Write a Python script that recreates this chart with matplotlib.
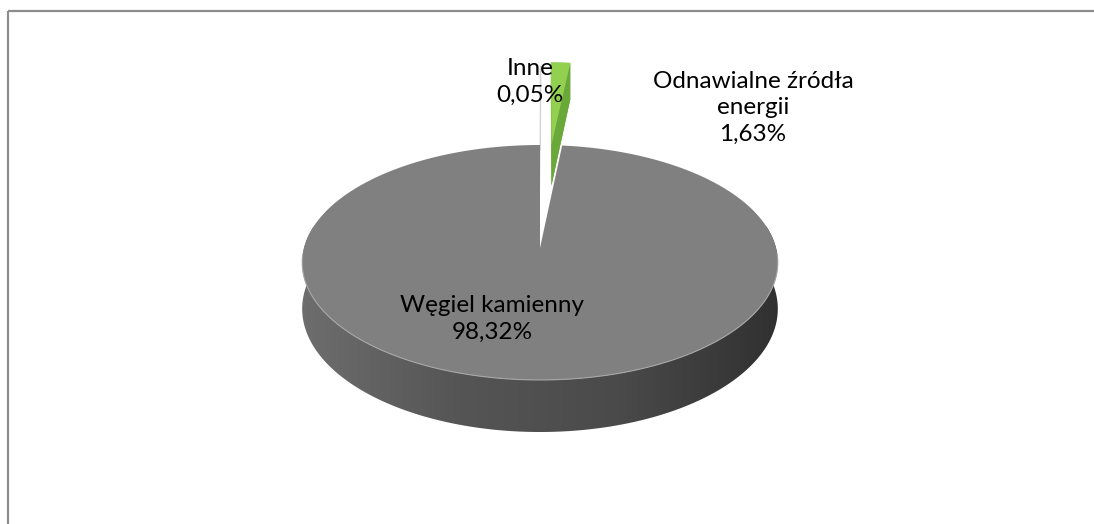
import numpy as np
import matplotlib.pyplot as plt
from matplotlib.patches import Polygon
from matplotlib.colors import LinearSegmentedColormap

# dane
kategorie = ['Inne', 'Odnawialne źródła\nenergii', 'Węgiel kamienny']
udzialy = [0.05, 1.63, 98.32]
procenty = ['0,05%', '1,63%', '98,32%']

kolory_gora = ['#f4f4f4', '#92d050', '#808080']
kolory_bok = ['#d4d4d4', '#6aa83a', '#505050']
wysuniecie = [0.95, 1.0, 0.0]

# geometria "3D" (piksele)
cx, cy = 540, 248
A, B, k = 236, 115.7, 0.1234
D = 45.6


def rzut(u, v, dol=False):
    w = 1 + k * v
    x = cx + A * u / w
    y = cy - B * v / w
    if dol:
        y = y + D / w
    return x, y


fig = plt.figure(figsize=(10.94, 5.24), dpi=100)
ax = fig.add_axes([0, 0, 1, 1])
ax.set_xlim(0, 1094)
ax.set_ylim(524, 0)
ax.axis('off')

granice = np.concatenate([[0], np.cumsum(udzialy)]) / np.sum(udzialy) * 360

# najpierw wysuniete male wycinki (z tylu)
for i in range(len(udzialy)):
    if wysuniecie[i] == 0:
        continue
    t0, t1 = np.radians(granice[i]), np.radians(granice[i + 1])
    tm = (t0 + t1) / 2
    ou, ov = wysuniecie[i] * np.sin(tm), wysuniecie[i] * np.cos(tm)
    t = np.linspace(t0, t1, 20)
    uu = np.concatenate([[ou], ou + np.sin(t)])
    vv = np.concatenate([[ov], ov + np.cos(t)])
    gora = np.column_stack(rzut(uu, vv))
    dol = np.column_stack(rzut(uu, vv, True))
    ax.add_patch(Polygon(dol, closed=True, fc=kolory_bok[i], ec='none'))
    n = len(gora)
    for j in range(n):
        q = [gora[j], gora[(j + 1) % n], dol[(j + 1) % n], dol[j]]
        ax.add_patch(Polygon(q, closed=True, fc=kolory_bok[i], ec='none'))
    ax.add_patch(Polygon(gora, closed=True, fc=kolory_gora[i],
                         ec=kolory_bok[i] if i == 0 else 'none', lw=0.8))

# glowny wycinek
i = 2
t0, t1 = np.radians(granice[i]), np.radians(granice[i + 1])
t = np.linspace(t0, t1, 400)

# bok z gradientem
tb = t[np.cos(t) < 0.2]
xg, yg = rzut(np.sin(tb), np.cos(tb))
xd, yd = rzut(np.sin(tb), np.cos(tb), True)
bok = Polygon(np.column_stack([np.concatenate([xg, xd[::-1]]),
                               np.concatenate([yg, yd[::-1]])]),
              closed=True, fc='none', ec='none')
ax.add_patch(bok)
cm = LinearSegmentedColormap.from_list('bok', ['#6e6e6e', '#555555', '#4a4a4a', '#303030'])
grad = np.linspace(0, 1, 256).reshape(1, -1)
im = ax.imshow(grad, cmap=cm, aspect='auto', interpolation='bilinear',
               extent=[cx - A * 1.02, cx + A * 1.02, cy + 200, cy - 50], zorder=1)
im.set_clip_path(bok)
ax.set_xlim(0, 1094)
ax.set_ylim(524, 0)

uu = np.concatenate([[0], np.sin(t)])
vv = np.concatenate([[0], np.cos(t)])
gora = np.column_stack(rzut(uu, vv))
ax.add_patch(Polygon(gora, closed=True, fc=kolory_gora[i], ec='none', zorder=2))
# jasna krawedz
mask = np.cos(t) < -0.05
xr, yr = rzut(np.sin(t[mask]), np.cos(t[mask]))
ax.plot(xr, yr, color='#a6a6a6', lw=0.8, zorder=3)

# etykiety
font = dict(family='Lato', size=17.5, color='black', ha='center', va='center',
            linespacing=1.33, zorder=5)
ax.text(530, 82, kategorie[0] + '\n' + procenty[0], **font)
ax.text(753, 108, kategorie[1] + '\n' + procenty[1], **font)
ax.text(492, 319, kategorie[2] + '\n' + procenty[2], **font)

# ramka
ax.plot([8, 1094], [11, 11], color='#8c8c8c', lw=1.6, solid_capstyle='butt')
ax.plot([8, 8], [11, 524], color='#8c8c8c', lw=1.6, solid_capstyle='butt')

fig.savefig('out.png', dpi=100)
